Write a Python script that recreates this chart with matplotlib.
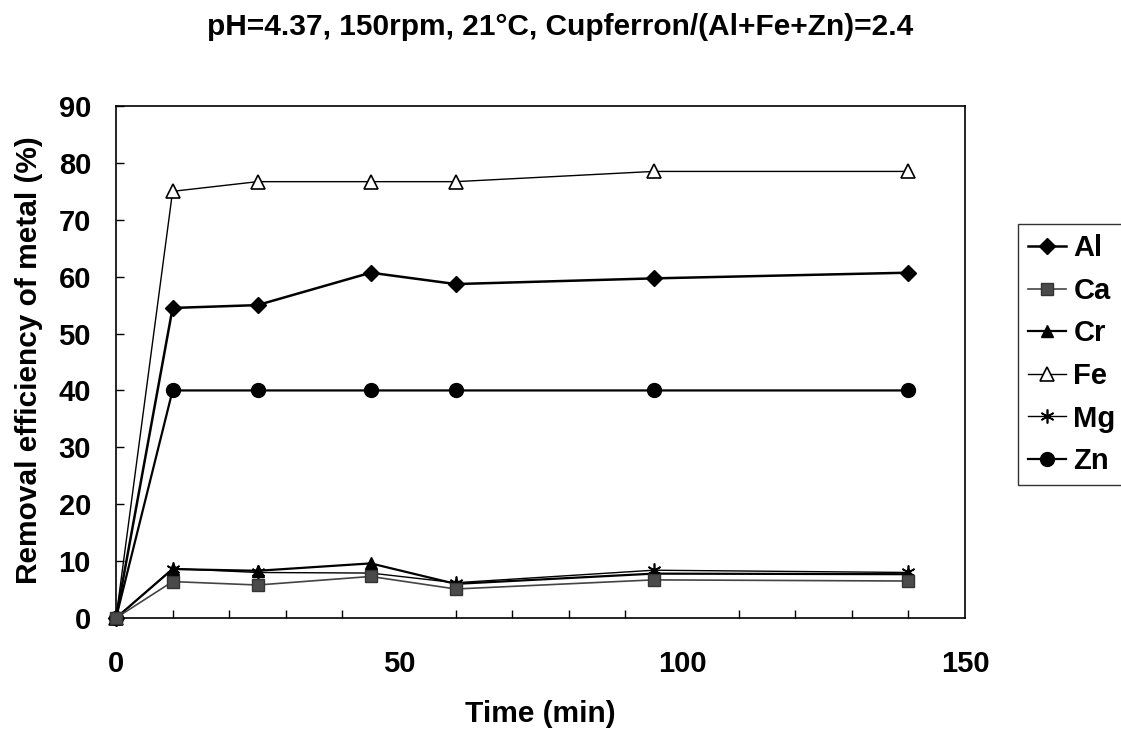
import matplotlib
matplotlib.use("Agg")
import matplotlib.pyplot as plt
from matplotlib.ticker import MultipleLocator

time_min = [0, 10, 25, 45, 60, 95, 140]
al = [0, 54.5, 55.0, 60.7, 58.7, 59.7, 60.7]
ca = [0, 6.4, 5.8, 7.3, 5.1, 6.7, 6.5]
cr = [0, 8.6, 8.3, 9.6, 6.0, 7.8, 7.7]
fe = [0, 75.0, 76.7, 76.7, 76.7, 78.5, 78.5]
mg = [0, 8.7, 8.0, 7.9, 6.2, 8.4, 8.0]
zn = [0, 40.0, 40.0, 40.0, 40.0, 40.0, 40.0]

title = "pH=4.37, 150rpm, 21°C, Cupferron/(Al+Fe+Zn)=2.4"

plt.rcParams['font.family'] = ['Liberation Sans', 'DejaVu Sans']
plt.rcParams['font.weight'] = 'bold'

fig = plt.figure(figsize=(11.21, 7.38), dpi=100)
ax = fig.add_axes([116/1121, 1 - 618/738, (965-116)/1121, (618-106)/738])

common = dict(clip_on=False)
ax.plot(time_min, fe, color='black', lw=1.0, marker='^', ms=10, mfc='white', mec='black', mew=1.2, label='Fe', zorder=2, **common)
ax.plot(time_min, al, color='black', lw=1.8, marker='D', ms=8, mfc='black', mec='black', label='Al', zorder=3, **common)
ax.plot(time_min, cr, color='black', lw=1.6, marker='^', ms=9, mfc='black', mec='black', label='Cr', zorder=3, **common)
ax.plot(time_min, mg, color='black', lw=1.0, marker=(6, 2, 0), ms=10, mec='black', mew=1.2, label='Mg', zorder=3, **common)
ax.plot(time_min, zn, color='black', lw=1.6, marker='o', ms=10, mfc='black', mec='black', label='Zn', zorder=3, **common)
ax.plot(time_min, ca, color='#444444', lw=1.2, marker='s', ms=8, mfc='#4a4a4a', mec='#333333', label='Ca', zorder=5, **common)

ax.set_xlim(0, 150)
ax.set_ylim(0, 90)
ax.xaxis.set_major_locator(MultipleLocator(50))
ax.xaxis.set_minor_locator(MultipleLocator(10))
ax.yaxis.set_major_locator(MultipleLocator(10))
ax.tick_params(axis='both', which='both', direction='in', labelsize=21, width=1, length=6)
ax.tick_params(axis='x', which='major', length=0, pad=23)
ax.tick_params(axis='x', which='minor', length=6)
ax.tick_params(axis='y', pad=18)
for lbl in ax.get_xticklabels() + ax.get_yticklabels():
    lbl.set_fontweight('bold')
for s in ax.spines.values():
    s.set_linewidth(1.2)

fig.text(540/1121, 1 - 714/738, 'Time (min)', ha='center', va='center', fontsize=21.5, fontweight='bold')
fig.text(29/1121, 1 - 360/738, 'Removal efficiency of metal (%)', ha='center', va='center',
         rotation=90, fontsize=21.5, fontweight='bold')
fig.text(0.5, 1 - 27/738, title, ha='center', va='center', fontsize=21.5, fontweight='bold')

handles, labels = ax.get_legend_handles_labels()
order = ['Al', 'Ca', 'Cr', 'Fe', 'Mg', 'Zn']
hmap = dict(zip(labels, handles))
leg = ax.legend([hmap[k] for k in order], order,
                loc='upper left', bbox_to_anchor=(1018/1121, 1 - 224/738), bbox_transform=fig.transFigure,
                frameon=True, fancybox=False, edgecolor='black', prop={'size': 21, 'weight': 'bold'},
                handlelength=1.3, handletextpad=0.25, labelspacing=0.5, borderpad=0.35, borderaxespad=0)
leg.get_frame().set_linewidth(1.0)

fig.savefig('out.png', dpi=100)
